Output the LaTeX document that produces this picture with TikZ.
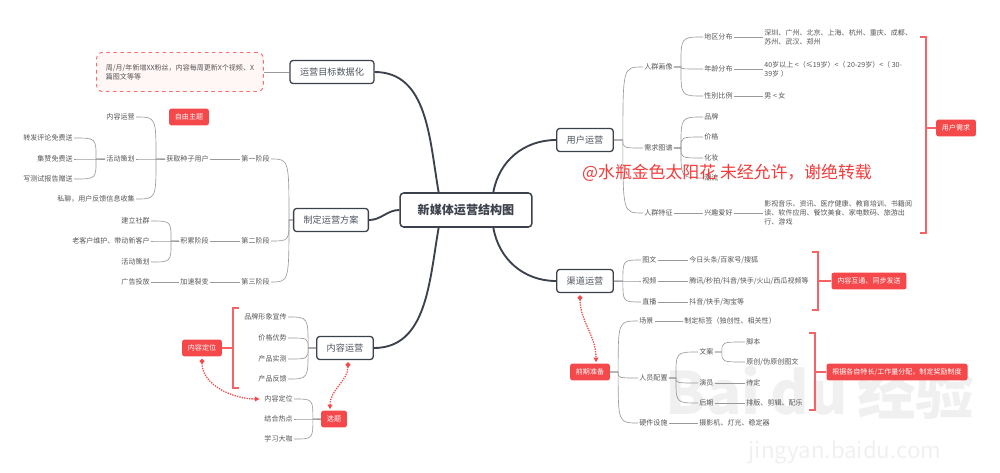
\documentclass[tikz,border=0pt]{standalone}
\usepackage{fontspec}
\setmainfont{Noto Sans CJK SC}
\usetikzlibrary{arrows.meta, calc}
\definecolor{cDark}{HTML}{3C424C}
\definecolor{cLine}{HTML}{9A9A9A}
\definecolor{cText}{HTML}{555555}
\definecolor{cRed}{HTML}{F5484A}
\definecolor{cPink}{HTML}{FFF6F6}
\definecolor{cMark}{HTML}{F23B3B}
\tikzset{
	hub/.style   ={rectangle, rounded corners=3pt, draw=cDark, line width=1.3pt, fill=white, text=cDark, font=\fontsize{10.3}{12}\selectfont\bfseries, minimum height=1.02cm, inner xsep=15pt},
	topic/.style ={rectangle, rounded corners=2.5pt, draw=cDark, line width=1.1pt, fill=white, text=cDark!90, font=\fontsize{7.8}{9}\selectfont, minimum height=0.69cm, inner xsep=8.5pt},
	leaf/.style  ={text=cText, font=\fontsize{6}{7.6}\selectfont, inner sep=1pt, align=left},
	tag/.style   ={rectangle, rounded corners=2pt, fill=cRed, text=white, font=\fontsize{6}{7}\selectfont, minimum height=0.5cm, inner xsep=5pt},
	note/.style  ={rectangle, rounded corners=5pt, draw=cRed!80, dashed, line width=0.8pt, fill=cPink, text=cText, font=\fontsize{6}{8}\selectfont, align=left, minimum width=5cm, minimum height=1.17cm},
	trunk/.style ={draw=cDark, line width=1.6pt},
	twig/.style  ={draw=cLine, line width=0.55pt},
	rbr/.style   ={to path={-- ++(#1,0) coordinate (jj) .. controls (jj |- \tikztotarget) .. (\tikztotarget)}},
	rbr/.default=7,
	lbr/.style   ={to path={-- ++(-#1,0) coordinate (jj) .. controls (jj |- \tikztotarget) .. (\tikztotarget)}},
	lbr/.default=7,
	brace/.style ={draw=cRed!85, line width=0.9pt},
	hint/.style  ={draw=cRed, densely dotted, line width=1.1pt, {Circle[length=4pt]}-{Triangle[length=4pt,width=4pt]}},
}
\begin{document}
\begin{tikzpicture}[x=0.03cm, y=-0.03cm]
	\useasboundingbox (0,0) rectangle (1000,472);
	% faint site watermark
	\node[text=black!6, font=\fontsize{50}{50}\selectfont\bfseries] (bdlogo) at (820,392) {Bai\,du\,经验};
	\node[text=black!6, font=\fontsize{19}{19}\selectfont] (bdurl) at (845,452) {jingyan.baidu.com};

	% centre and main topics
	\node[hub] (cen) at (466,210) {新媒体运营结构图};
	\node[topic] (goal) at (332,72) {运营目标数据化};
	\node[topic] (plan) at (331,220) {制定运营方案};
	\node[topic] (cont) at (345,348) {内容运营};
	\node[topic] (user) at (585,140) {用户运营};
	\node[topic] (chan) at (585,281) {渠道运营};
	\draw[trunk] (cen.147) to[out=100,in=0] (goal.east);
	\draw[trunk] (cen.west) to[out=180,in=0] (plan.east);
	\draw[trunk] (cen.213) to[out=260,in=0] (cont.east);
	\draw[trunk] (cen.33) to[out=80,in=180] (user.west);
	\draw[trunk] (cen.327) to[out=280,in=180] (chan.west);

	% goal
	\node[note] (gnote) at (180,72) {周/月/年新增XX粉丝，内容每周更新X个视频、X\\篇图文等等};
	\draw[twig] (goal.west) -- (gnote.east);

	% plan
	\node[leaf, anchor=east] (st1) at (271,159) {第一阶段};
	\node[leaf, anchor=east] (st2) at (271,241) {第二阶段};
	\node[leaf, anchor=east] (st3) at (271,282) {第三阶段};
	\foreach \c in {st1,st2,st3} \draw[twig] (plan.west) to[lbr=4] (\c.east);
	\node[leaf, anchor=east] (seed) at (210,159) {获取种子用户};
	\node[leaf, anchor=east] (acc) at (210,241) {积累阶段};
	\node[leaf, anchor=east] (grow) at (210,282) {加速裂变};
	\draw[twig] (st1.west) -- (seed.east);
	\draw[twig] (st2.west) -- (acc.east);
	\draw[twig] (st3.west) -- (grow.east);
	\node[leaf, anchor=east] (s1) at (136,117) {内容运营};
	\node[leaf, anchor=east] (s2) at (136,159) {活动策划};
	\node[leaf, anchor=east] (s3) at (136,199) {私聊，用户反馈信息收集};
	\foreach \c in {s1,s2,s3} \draw[twig] (seed.west) to[lbr=9] (\c.east);
	\node[leaf, anchor=east] (a1) at (74,138) {转发评论免费送};
	\node[leaf, anchor=east] (a2) at (74,159) {集赞免费送};
	\node[leaf, anchor=east] (a3) at (74,179) {写测试报告赠送};
	\foreach \c in {a1,a2,a3} \draw[twig] (s2.west) to[lbr=9] (\c.east);
	\node[tag] (free) at (189,117) {自由主题};
	\node[leaf, anchor=east] (b1) at (151,221) {建立社群};
	\node[leaf, anchor=east] (b2) at (151,241) {老客户维护、带动新客户};
	\node[leaf, anchor=east] (b3) at (151,262) {活动策划};
	\foreach \c in {b1,b2,b3} \draw[twig] (acc.west) to[lbr=8] (\c.east);
	\node[leaf, anchor=east] (ad) at (151,282) {广告投放};
	\draw[twig] (grow.west) -- (ad.east);

	% content
	\node[leaf, anchor=east] (c1) at (288,317) {品牌形象宣传};
	\node[leaf, anchor=east] (c2) at (288,338) {价格优势};
	\node[leaf, anchor=east] (c3) at (288,359) {产品实测};
	\node[leaf, anchor=east] (c4) at (288,379) {产品反馈};
	\foreach \c in {c1,c2,c3,c4} \draw[twig] (cont.west) to[lbr=8] (\c.east);
	\node[tag] (pos) at (202,348) {内容定位};
	\draw[brace] (239,308) -- (233,308) -- (233,388) -- (239,388);
	\coordinate (cbm) at (233,348);
	\draw[brace] (cbm) -- (pos.east);
	\node[tag] (pick) at (334,419) {选题};
	\node[leaf, anchor=east] (p1) at (294,399) {内容定位};
	\node[leaf, anchor=east] (p2) at (294,419) {结合热点};
	\node[leaf, anchor=east] (p3) at (294,439) {学习大咖};
	\foreach \c in {p1,p2,p3} \draw[twig] (pick.west) to[lbr=8] (\c.east);
	\draw[hint, shorten <=2pt, shorten >=3pt] (pos.south) to[out=270,in=180] (p1.west);
	\draw[hint, shorten <=2pt, shorten >=1pt] ($(cont.south)+(3,0)$) to[out=270,in=90] ($(pick.north)+(-4,0)$);

	% users
	\node[leaf, anchor=west] (u1) at (643,67) {人群画像};
	\node[leaf, anchor=west] (u2) at (643,148) {需求图谱};
	\node[leaf, anchor=west] (u3) at (643,213) {人群特征};
	\foreach \c in {u1,u2,u3} \draw[twig] (user.east) to[rbr=9] (\c.west);
	\node[leaf, anchor=west] (g1) at (703,37) {地区分布};
	\node[leaf, anchor=west] (g2) at (703,69) {年龄分布};
	\node[leaf, anchor=west] (g3) at (703,96) {性别比例};
	\foreach \c in {g1,g2,g3} \draw[twig] (u1.east) to[rbr=7] (\c.west);
	\node[leaf, anchor=west] (g1t) at (763,37) {深圳、广州、北京、上海、杭州、重庆、成都、\\苏州、武汉、郑州};
	\node[leaf, anchor=west] (g2t) at (763,69) {40岁以上 <（≤19岁）<（ 20-29岁）<（ 30-\\39岁 ）};
	\node[leaf, anchor=west] (g3t) at (763,96) {男 < 女};
	\foreach \c in {g1,g2,g3} \draw[twig] (\c.east) -- (\c t.west);
	\node[leaf, anchor=west] (n1) at (703,117) {品牌};
	\node[leaf, anchor=west] (n2) at (703,137) {价格};
	\node[leaf, anchor=west] (n3) at (703,158) {化妆};
	\node[leaf, anchor=west] (n4) at (703,178) {潮流};
	\foreach \c in {n1,n2,n3,n4} \draw[twig] (u2.east) to[rbr=7] (\c.west);
	\node[leaf, anchor=west] (hob) at (703,213) {兴趣爱好};
	\node[leaf, anchor=west] (hobt) at (763,213) {影视音乐、资讯、医疗健康、教育培训、书籍阅\\读、软件应用、餐饮美食、家电数码、旅游出\\行、游戏};
	\draw[twig] (u3.east) -- (hob.west);
	\draw[twig] (hob.east) -- (hobt.west);
	\node[tag] (need) at (956,128) {用户需求};
	\draw[brace] (920,37) -- (926,37) -- (926,233) -- (920,233);
	\coordinate (ubm) at (926,128);
	\draw[brace] (ubm) -- (need.west);

	% channels
	\node[leaf, anchor=west] (h1) at (641,260) {图文};
	\node[leaf, anchor=west] (h2) at (641,281) {视频};
	\node[leaf, anchor=west] (h3) at (641,302) {直播};
	\foreach \c in {h1,h2,h3} \draw[twig] (chan.east) to[rbr=9] (\c.west);
	\node[leaf, anchor=west] (h1t) at (688,260) {今日头条/百家号/搜狐};
	\node[leaf, anchor=west] (h2t) at (688,281) {腾讯/秒拍/抖音/快手/火山/西瓜视频等};
	\node[leaf, anchor=west] (h3t) at (688,302) {抖音/快手/淘宝等};
	\foreach \c in {h1,h2,h3} \draw[twig] (\c.east) -- (\c t.west);
	\node[tag] (sync) at (869,281) {内容互通、同步发送};
	\draw[brace] (812,252) -- (818,252) -- (818,310) -- (812,310);
	\coordinate (hbm) at (818,281);
	\draw[brace] (hbm) -- (sync.west);

	% preparation
	\node[tag] (prep) at (590,372) {前期准备};
	\draw[hint, shorten <=2pt, shorten >=1pt] ($(chan.south)+(-5,0)$) to[out=270,in=90] ($(prep.north)+(6,0)$);
	\node[leaf, anchor=west] (q1) at (638,321) {场景};
	\node[leaf, anchor=west] (q2) at (638,378) {人员配置};
	\node[leaf, anchor=west] (q3) at (638,423) {硬件设施};
	\foreach \c in {q1,q2,q3} \draw[twig] (prep.east) to[rbr=8] (\c.west);
	\node[leaf, anchor=west] (q1t) at (683,321) {制定标签（独创性、相关性）};
	\node[leaf, anchor=west] (q3t) at (698,423) {摄影机、灯光、稳定器};
	\draw[twig] (q1.east) -- (q1t.west);
	\draw[twig] (q3.east) -- (q3t.west);
	\node[leaf, anchor=west] (r1) at (698,352) {文案};
	\node[leaf, anchor=west] (r2) at (698,383) {演员};
	\node[leaf, anchor=west] (r3) at (698,403) {后期};
	\foreach \c in {r1,r2,r3} \draw[twig] (q2.east) to[rbr=7] (\c.west);
	\node[leaf, anchor=west] (w1) at (745,342) {脚本};
	\node[leaf, anchor=west] (w2) at (745,362) {原创/伪原创图文};
	\foreach \c in {w1,w2} \draw[twig] (r1.east) to[rbr=7] (\c.west);
	\node[leaf, anchor=west] (r2t) at (745,383) {待定};
	\node[leaf, anchor=west] (r3t) at (745,403) {排版、剪辑、配乐};
	\draw[twig] (r2.east) -- (r2t.west);
	\draw[twig] (r3.east) -- (r3t.west);
	\node[tag] (staff) at (897,372) {根据各自特长/工作量分配，制定奖励制度};
	\draw[brace] (809,333) -- (815,333) -- (815,410) -- (809,410);
	\coordinate (pbm) at (815,372);
	\draw[brace] (pbm) -- (staff.west);

	% author mark
	\node[text=cMark, font=\fontsize{14.4}{16}\selectfont] (mark) at (727,173) {@水瓶金色太阳花~未经允许，谢绝转载};
\end{tikzpicture}
\end{document}
